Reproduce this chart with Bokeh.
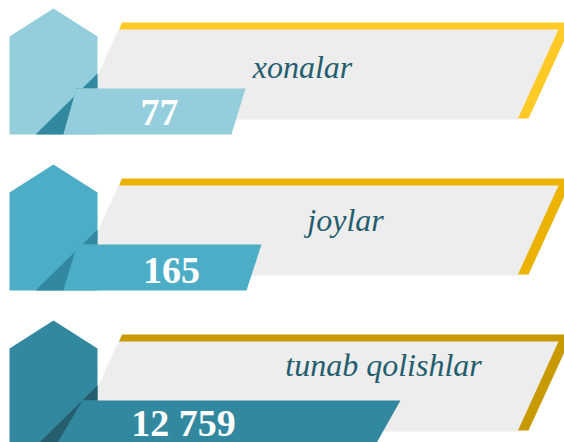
from bokeh.plotting import figure
from bokeh.models import Range1d, ColumnDataSource
from bokeh.embed import file_html
from bokeh.resources import INLINE
from bokeh.core.properties import value

# ---- data ----
labels = ["xonalar", "joylar", "tunab qolishlar"]
values = [77, 165, 12759]
value_text = ["77", "165", "12 759"]

# ---- styles ----
hex_colors = ["#94CDDC", "#4BADC6", "#32889E"]
fold_colors = ["#32889E", "#32889E", "#245E6E"]
frame_colors = ["#FFC926", "#EBB300", "#C99A00"]
panel_color = "#EDEDED"
label_color = "#245E6E"

# ---- layout (pixel space, relative to each row's top) ----
row_step = 156
row_top0 = 8
bar_right_top = [245, 261, 400]
bar_right_bot = [231, 246, 374]
bar_left_top = [76, 77, 82]
bar_left_bot = [63, 63, 55]
num_x = [159, 171, 183]
num_base = [104, 106, 102]
lab_x = [302, 345, 383]
lab_base = [58, 55, 44]

W, H = 564, 442
p = figure(width=W, height=H, output_backend="svg", toolbar_location=None,
           x_range=Range1d(0, W), y_range=Range1d(H, 0),
           min_border=0)
p.axis.visible = False
p.grid.visible = False
p.outline_line_color = None
p.background_fill_color = "white"
p.border_fill_color = "white"

fx, fy, gx, gy, hx, hy, dx, dy, bx, by = ([] for _ in range(10))
for i in range(len(labels)):
    t = row_top0 + row_step * i
    # frame (yellow)
    fx.append([121.5, 572, 528, 81]); fy.append([t + 14, t + 14, t + 110, t + 110])
    # panel (gray)
    gx.append([118, 558, 517, 77]); gy.append([t + 21, t + 21, t + 111, t + 111])
    # house
    hx.append([9, 53, 97, 97, 9]); hy.append([t + 28, t, t + 28, t + 126, t + 126])
    # fold shadow
    dx.append([35, 97, 97, bar_left_top[i], bar_left_bot[i]])
    dy.append([t + 126, t + 65, t + 80, t + 80, t + 126])
    # value ribbon
    bx.append([bar_left_top[i], bar_right_top[i], bar_right_bot[i], bar_left_bot[i]])
    by.append([t + 80, t + 80, t + 126, t + 126])

p.patches(fx, fy, fill_color=frame_colors, line_color=None)
p.patches(gx, gy, fill_color=panel_color, line_color=None)
p.patches(hx, hy, fill_color=hex_colors, line_color=None)
p.patches(dx, dy, fill_color=fold_colors, line_color=None)
p.patches(bx, by, fill_color=hex_colors, line_color=None)

tops = [row_top0 + row_step * i for i in range(len(labels))]
num_src = ColumnDataSource(dict(x=num_x, y=[tops[i] + num_base[i] for i in range(3)], text=value_text))
lab_src = ColumnDataSource(dict(x=lab_x, y=[tops[i] + lab_base[i] for i in range(3)], text=labels))

p.text(x="x", y="y", text="text", source=num_src, text_font=value("Liberation Serif"),
       text_font_style="bold", text_font_size="38px", text_color="white",
       text_align="center", text_baseline="alphabetic")
p.text(x="x", y="y", text="text", source=lab_src, text_font=value("Liberation Serif"),
       text_font_style="italic", text_font_size="32px", text_color=label_color,
       text_align="center", text_baseline="alphabetic")

open("out.html", "w").write(file_html(p, INLINE))
